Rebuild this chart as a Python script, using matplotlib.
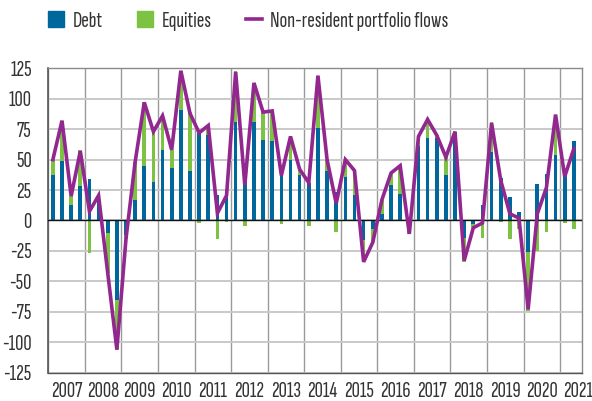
import matplotlib
matplotlib.use("Agg")
import matplotlib.pyplot as plt
import numpy as np
from matplotlib.patches import Patch
from matplotlib.lines import Line2D

years = [str(y) for y in range(2007, 2022)]

debt = [37, 49, 13, 28,
        34, 20, -10, -65,
        -12, 17, 45, 32,
        58, 43, 91, 41,
        72, 70, 21, 20,
        81, 33, 81, 66,
        65, 39, 50, 37,
        31, 76, 41, 23,
        36, 21, -16, -7,
        5, 29, 22, -1,
        61, 68, 68, 37,
        67, -14, -3, 13,
        56, 35, 19, 7,
        -26, 30, 38, 54,
        38, 65]

equities = [13, 33, 7, 29.5,
            -27, 1, -33, -41,
            -3, 31, 52, 42,
            28, 15, 32, 48,
            -2, 5, -15, -1,
            42, -4.6, 32, 23,
            25, -2.7, 19, 5.5,
            -4.7, 42, 9, -9.6,
            14, 20, -18, -10.5,
            12, 10, 23, -10,
            9, 16, 2, 15,
            6, -20, -3, -14.5,
            24.7, -1.4, -15, -7,
            -48, -25, -9.6, 33,
            -2, -7]

flows = [50, 82, 20, 57,
         7.5, 20.5, -43, -106,
         -15, 48, 97, 73,
         86, 58, 123, 88,
         72, 78, 6, 20.5,
         122, 29, 113, 89,
         90, 37, 69, 42,
         31, 119, 50, 14,
         50, 41, -34, -18,
         17, 39, 45, -11,
         69, 83, 70, 52,
         73, -33, -6, -2,
         80, 33, 5.5, 2,
         -73, 5.5, 27, 87,
         36, 59]

c_debt = "#00679C"
c_eq = "#7DC242"
c_line = "#92278F"
txt = "#333333"

plt.rcParams['font.family'] = ['Sofia Sans Extra Condensed', 'Barlow Condensed', 'DejaVu Sans']
plt.rcParams['font.weight'] = 'normal'
FS = 16.5

fig = plt.figure(figsize=(5.92, 4.01), dpi=100)
ax = fig.add_axes([0.0816, 0.0706, 0.9010, 0.7591])

n = len(debt)
x = np.arange(n)
d = np.array(debt, dtype=float)
e = np.array(equities, dtype=float)
bottom_e = np.where(np.sign(d) == np.sign(e), d, 0.0)

w = 0.4
ax.bar(x, d, width=w, color=c_debt, zorder=3, linewidth=0)
ax.bar(x, e, bottom=bottom_e, width=w, color=c_eq, zorder=3, linewidth=0)
ax.plot(x, flows, color=c_line, lw=2.6, zorder=5, solid_joinstyle='miter')
ax.axhline(0, color='#111111', lw=1.0, zorder=4)

ax.set_ylim(-125, 125)
ax.set_xlim(-0.5, n - 1 + 0.86)
ax.set_yticks(np.arange(-125, 126, 25))
ax.set_yticklabels([str(v) for v in range(-125, 126, 25)])

nyears = len(years)
ax.set_xticks([4 * i + 1.5 for i in range(nyears)])
ax.set_xticklabels(years)
ax.set_xticks([4 * i - 0.5 for i in range(nyears)], minor=True)

ax.grid(True, axis='y', which='major', color='#c9c9c9', lw=1.4, zorder=0)
ax.grid(True, axis='x', which='minor', color='#9a9a9a', lw=1.0, zorder=0)
ax.grid(False, axis='x', which='major')

ax.tick_params(axis='both', which='both', length=0, labelsize=FS, colors=txt)
ax.tick_params(axis='y', pad=12)
ax.tick_params(axis='x', pad=7)
for s in ax.spines.values():
    s.set_color('#8a8a8a')
    s.set_linewidth(1.0)
ax.spines['left'].set_color('#555555')
ax.spines['left'].set_linewidth(1.2)
ax.spines['bottom'].set_color('#555555')

handles = [Patch(color=c_debt), Patch(color=c_eq),
           Line2D([0], [0], color=c_line, lw=2.6)]
labels = ["Debt", "Equities", "Non-resident portfolio flows"]
fig.legend(handles, labels, loc='center left', bbox_to_anchor=(0.046, 0.948),
           ncol=3, frameon=False, fontsize=FS, handlelength=0.72,
           handleheight=0.72, handletextpad=0.35, columnspacing=1.5,
           labelcolor=txt)

fig.savefig("out.png", dpi=100)
